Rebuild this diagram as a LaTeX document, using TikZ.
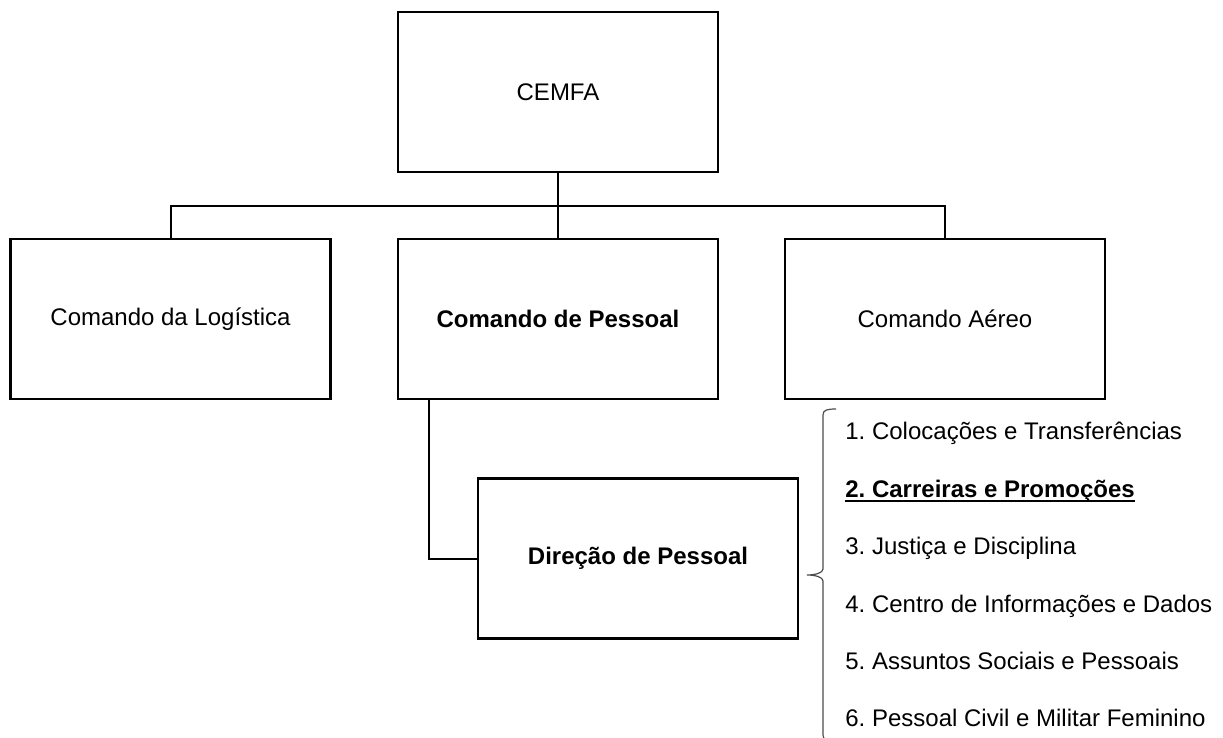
\documentclass[tikz,border=0pt]{standalone}
\usepackage{fontspec}
\setmainfont{Liberation Sans}
\usetikzlibrary{calc}
\frenchspacing
\newcommand{\sublinhado}[1]{\setbox0\hbox{#1}\rlap{\rule[-2.6pt]{\wd0}{1.3pt}}\box0}

\begin{document}
\begin{tikzpicture}[x=0.5pt,y=-0.5pt,
      caixa/.style={draw,line width=1.2pt,minimum width=160pt,minimum height=80pt,inner sep=0pt,font=\fontsize{12}{14}\selectfont},
      ligacao/.style={line width=1pt},
      item/.style={anchor=base west,inner sep=0pt,font=\fontsize{12}{14}\selectfont}]
              \useasboundingbox (0,0) rectangle (1223,738);
              \node[caixa] (cemfa) at (558,92) {CEMFA};
              \node[caixa] (logistica) at (170.5,319) {Comando da Logística};
              \node[caixa] (pessoal) at (558,319) {\textbf{Comando de Pessoal}};
              \node[caixa] (aereo) at (945,319) {Comando Aéreo};
              \node[caixa] (direcao) at (638,558.5) {\textbf{Direção de Pessoal}};

              \coordinate (barra) at (558,206);
              \draw[ligacao] (cemfa.south) -- (pessoal.north);
              \draw[ligacao] (logistica.north) |- (barra) -| (aereo.north);
              \coordinate (desce) at ($(pessoal.south west)+(32,0)$);
              \draw[ligacao] (desce) |- (direcao.west);

              \draw[line width=0.6pt,black!70] (836,409) .. controls (827,409) and (823,410) .. (823,415) -- (823,569)
                .. controls (823,573) and (815,575) .. (807,575) .. controls (815,575) and (823,577) .. (823,581)
                -- (823,735) .. controls (823,740) and (827,741) .. (836,741);

              \node[item] (ct) at (845,439) {1. Colocações e Transferências};
              \node[item] (cp) at (845,497) {\textbf{\sublinhado{2. Carreiras e Promoções}}};
              \node[item] (jd) at (845,554) {3. Justiça e Disciplina};
              \node[item] (cid) at (845,612) {4. Centro de Informações e Dados};
              \node[item] (asp) at (845,669) {5. Assuntos Sociais e Pessoais};
              \node[item] (pcmf) at (845,726) {6. Pessoal Civil e Militar Feminino};
            \end{tikzpicture}
\end{document}
